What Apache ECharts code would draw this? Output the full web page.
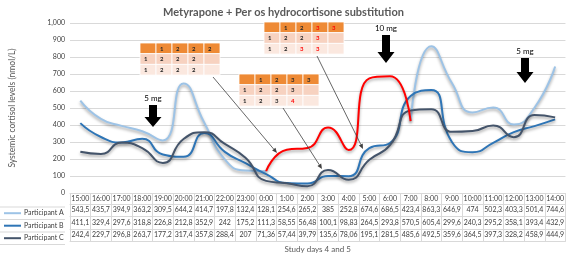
<!DOCTYPE html>
<html>
<head>
<meta charset="utf-8">
<script src="https://cdn.jsdelivr.net/npm/echarts@6/dist/echarts.min.js"></script>
<style>
  html, body { margin: 0; padding: 0; background: #fff; }
  #chart { width: 567px; height: 258px; }
</style>
</head>
<body>
<div id="chart"></div>
<script>
// hours of study days 4 and 5
const hours = ['15:00', '16:00', '17:00', '18:00', '19:00', '20:00', '21:00', '22:00',
  '23:00', '0:00', '1:00', '2:00', '3:00', '4:00', '5:00', '6:00', '7:00', '8:00',
  '9:00', '10:00', '11:00', '12:00', '13:00', '14:00'];

// systemic cortisol levels (nmol/L)
const participantA = [543.5, 435.7, 394.9, 363.2, 309.5, 644.2, 414.7, 197.8, 132.4, 128.1,
  254.6, 265.2, 385, 252.8, 674.6, 686.5, 423.4, 863.3, 646.9, 474, 502.3, 403.3, 501.4, 744.6];
const participantB = [411.1, 329.4, 297.6, 318.8, 226.8, 212.8, 352.9, 242, 175.2, 111.3,
  58.55, 56.48, 100.1, 98.83, 264.5, 293.8, 570.5, 605.4, 299.6, 240.3, 295.2, 358.1, 393.4, 432.9];
const participantC = [242.4, 229.7, 296.8, 263.7, 177.2, 317.4, 357.8, 288.4, 207, 71.36,
  57.44, 39.79, 135.6, 78.06, 195.1, 281.5, 485.6, 492.5, 359.6, 364.5, 397.3, 328.2, 458.9, 444.9];

// participant A is drawn in red between these hours
const redFrom = '0:00';
const redTo = '7:00';

// small schedule tables, '*' = red digit
const scheduleLeft = [['', '1', '2', '2', '2'], ['1', '2', '2', '2', ''], ['1', '2', '2', '2', '']];
const scheduleMiddle = [['', '1', '2', '3', '3'], ['1', '2', '2', '3', ''], ['1', '2', '3', '4*', '']];
const scheduleTop = [['', '1', '2', '3*', '3*'], ['1', '2', '2', '3*', ''], ['1', '2', '3*', '3*', '']];
const doses = ['5 mg', '10 mg', '5 mg'];

const FONT = 'Lato';
const TXT = '#595959';
const GRIDLINE = '#d9d9d9';
const G = { left: 65, right: 0, top: 23, bottom: 62 };
const HEAD_H = 11;
const ROW_H = 12.5;
const plotBottom = 258 - G.bottom;

const fmt = v => String(v).replace('.', ',');

const iFrom = hours.indexOf(redFrom);
const iTo = hours.indexOf(redTo);
const blueA = participantA.map((v, i) => (i > iFrom && i < iTo ? null : v));
const redA = participantA.map((v, i) => (i >= iFrom && i <= iTo ? v : null));

// one row of the data table under the chart = one extra category axis
function tableAxis(values, offset, height, extra) {
  return Object.assign({
    type: 'category',
    data: hours,
    position: 'bottom',
    offset: offset,
    axisLine: { show: true, lineStyle: { color: GRIDLINE, width: 1 } },
    axisTick: { show: true, interval: 0, length: height, lineStyle: { color: GRIDLINE } },
    axisLabel: {
      show: values != null,
      interval: 0,
      margin: 2.5,
      fontFamily: FONT,
      fontSize: 7,
      color: '#404040',
      formatter: (v, i) => (values ? fmt(values[i]) : '')
    },
    splitLine: { show: false }
  }, extra || {});
}

function scheduleTable(cells, x, y) {
  const cw = 16, ch = 10.7;
  const fills = ['#ee8a35', '#f7d2c0', '#fbe8df'];
  const els = [];
  cells.forEach((row, r) => row.forEach((cell, c) => {
    els.push({
      type: 'rect',
      shape: { x: x + c * cw, y: y + r * ch, width: cw, height: ch },
      style: { fill: fills[r], stroke: '#fff', lineWidth: 0.8 }
    });
    if (cell) {
      els.push({
        type: 'text',
        x: x + c * cw + 4,
        y: y + r * ch + ch / 2 + 0.5,
        style: {
          text: cell.replace('*', ''),
          fill: cell.endsWith('*') ? '#ff0000' : '#262626',
          font: 'bold 6px ' + FONT,
          verticalAlign: 'middle'
        }
      });
    }
  }));
  return els;
}

function thinArrow(x1, y1, x2, y2) {
  const a = Math.atan2(y2 - y1, x2 - x1);
  const L = 5, W = 2.2;
  const bx = x2 - L * Math.cos(a), by = y2 - L * Math.sin(a);
  return [
    { type: 'line', shape: { x1: x1, y1: y1, x2: bx, y2: by }, style: { stroke: '#404040', lineWidth: 0.8 } },
    {
      type: 'polygon',
      shape: { points: [[x2, y2], [bx - W * Math.sin(a), by + W * Math.cos(a)], [bx + W * Math.sin(a), by - W * Math.cos(a)]] },
      style: { fill: '#404040' }
    }
  ];
}

function doseArrow(cx, top, headTop, tip, label) {
  const s = 4, h = 8.5;
  return [
    {
      type: 'polygon',
      shape: { points: [[cx - s, top], [cx + s, top], [cx + s, headTop], [cx + h, headTop], [cx, tip], [cx - h, headTop], [cx - s, headTop]] },
      style: { fill: '#000' }
    },
    {
      type: 'text', x: cx, y: top - 3,
      style: { text: label, fill: '#000', font: '8px ' + FONT, align: 'center', verticalAlign: 'bottom' }
    }
  ];
}

// border lines of the legend column of the data table
const legendRows = [0, 1, 2, 3].map(k => ({
  type: 'line',
  shape: { x1: 0, y1: plotBottom + HEAD_H + k * ROW_H, x2: G.left, y2: plotBottom + HEAD_H + k * ROW_H },
  style: { stroke: GRIDLINE, lineWidth: 1 }
}));

const graphics = [].concat(
  legendRows,
  scheduleTable(scheduleLeft, 140, 43),
  scheduleTable(scheduleMiddle, 239, 74),
  scheduleTable(scheduleTop, 264, 22),
  thinArrow(213, 77, 277, 153),
  thinArrow(283, 108, 322, 169),
  thinArrow(317, 56, 363, 149),
  doseArrow(153, 105, 117, 127, doses[0]),
  doseArrow(386, 35, 52, 63, doses[1]),
  doseArrow(525, 58, 72, 83, doses[2])
);

const lineShadow = { shadowColor: 'rgba(0,0,0,0.35)', shadowBlur: 3, shadowOffsetY: 2 };

function lineSeries(name, data, color) {
  return {
    name: name,
    type: 'line',
    data: data,
    smooth: 0.55,
    symbol: 'none',
    connectNulls: false,
    lineStyle: Object.assign({ color: color, width: 2 }, lineShadow),
    itemStyle: { color: color }
  };
}

const chart = echarts.init(document.getElementById('chart'), null, { renderer: 'canvas' });
chart.setOption({
  animation: false,
  title: {
    text: 'Metyrapone + Per os hydrocortisone substitution',
    left: 'center',
    top: 2,
    textStyle: { fontFamily: FONT, fontSize: 11, fontWeight: 'bold', color: TXT }
  },
  legend: {
    data: ['Participant A', 'Participant B', 'Participant C'],
    orient: 'vertical',
    left: 4,
    top: plotBottom + HEAD_H + 1.2,
    padding: 0,
    itemGap: 2.5,
    itemWidth: 17,
    itemHeight: 2,
    icon: 'rect',
    selectedMode: false,
    textStyle: { fontFamily: FONT, fontSize: 7, color: '#404040', lineHeight: 10, padding: [0, 0, 0, -2] }
  },
  grid: { left: G.left, right: G.right, top: G.top, bottom: G.bottom },
  xAxis: [
    tableAxis(null, 0, HEAD_H, {
      axisLabel: {
        interval: 0, margin: 2.5, fontFamily: FONT, fontSize: 7, color: '#404040'
      }
    }),
    tableAxis(participantA, HEAD_H, ROW_H),
    tableAxis(participantB, HEAD_H + ROW_H, ROW_H),
    tableAxis(participantC, HEAD_H + 2 * ROW_H, ROW_H),
    tableAxis(null, HEAD_H + 3 * ROW_H, 0, {
      axisTick: { show: false },
      name: 'Study days 4 and 5',
      nameLocation: 'middle',
      nameGap: 3.5,
      nameTextStyle: { fontFamily: FONT, fontSize: 8, color: TXT, verticalAlign: 'top' }
    })
  ],
  yAxis: {
    type: 'value',
    min: 0,
    max: 1000,
    interval: 100,
    name: 'Systemic cortisol levels (nmol/L)',
    nameLocation: 'middle',
    nameGap: 53,
    nameTextStyle: { fontFamily: FONT, fontSize: 8.5, color: TXT },
    axisLine: { show: false },
    axisTick: { show: false },
    axisLabel: { fontFamily: FONT, fontSize: 7, color: '#404040', margin: 5 },
    splitLine: { lineStyle: { color: GRIDLINE, width: 1 } }
  },
  series: [
    lineSeries('Participant A', blueA, '#9dc3e6'),
    lineSeries('Participant B', participantB, '#2e75b6'),
    lineSeries('Participant C', participantC, '#44546a'),
    lineSeries('Participant A 0:00-7:00', redA, '#ff0000')
  ],
  graphic: { elements: graphics.map(e => Object.assign({ silent: true, z: 100 }, e)) }
});
</script>
</body>
</html>
